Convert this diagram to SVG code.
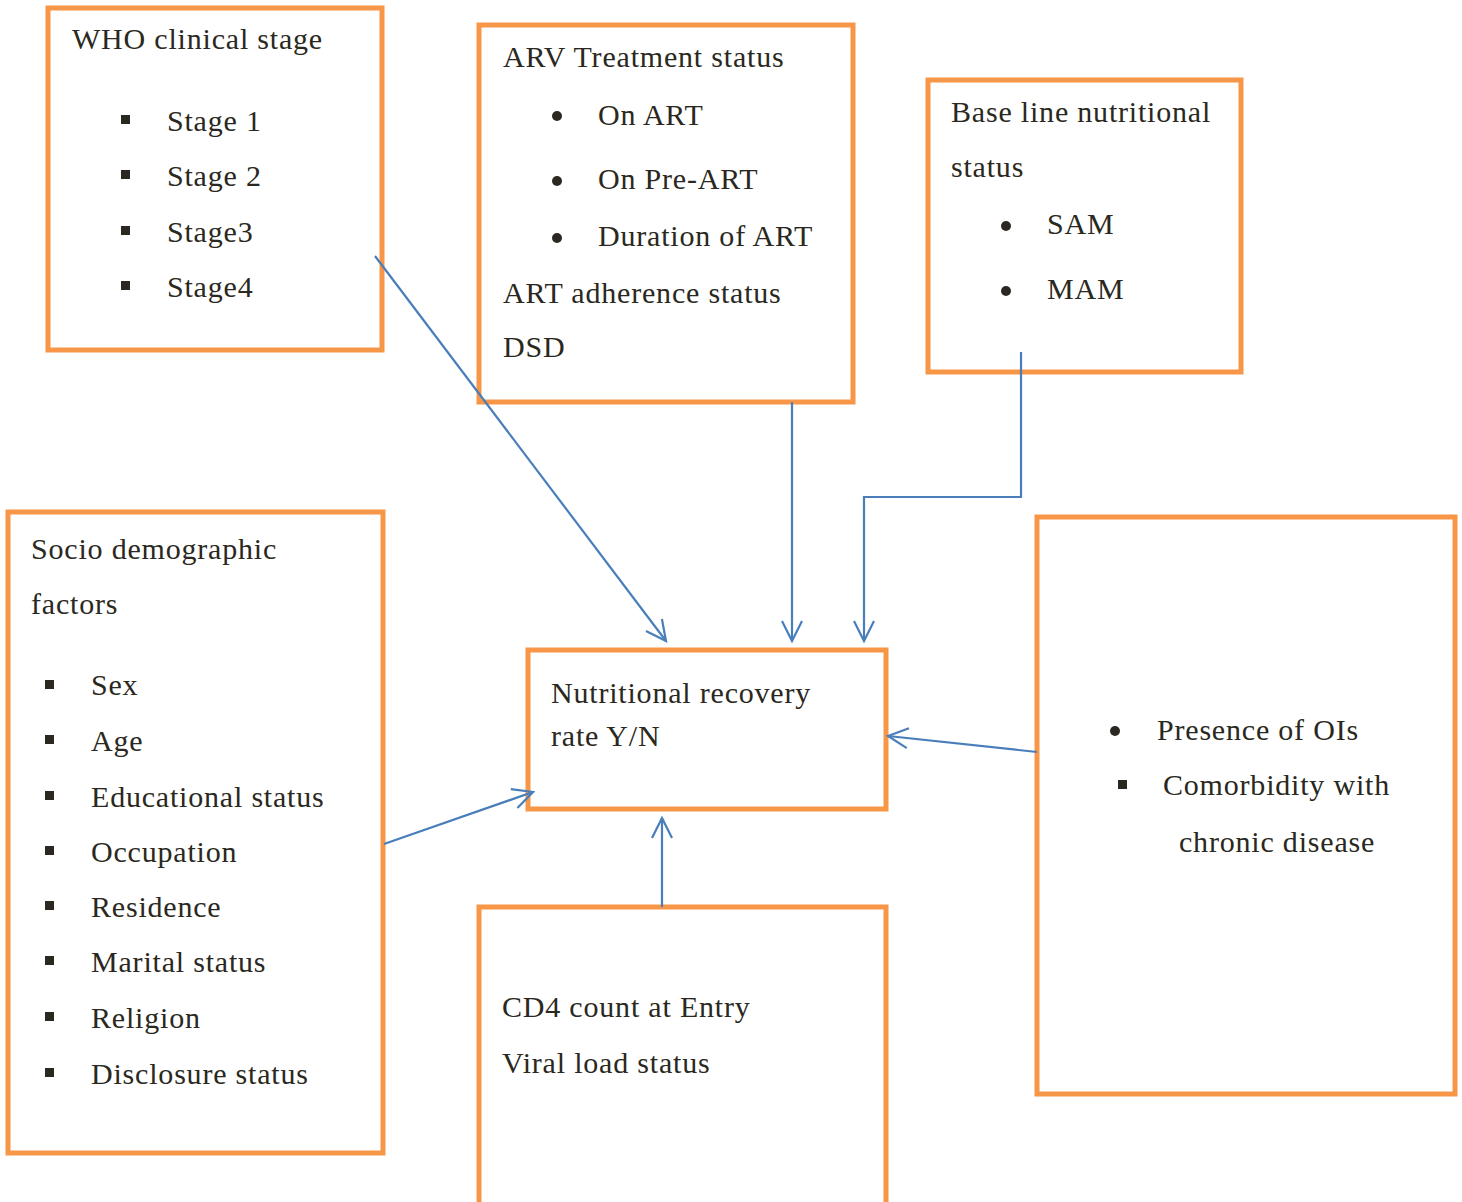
<svg xmlns="http://www.w3.org/2000/svg" width="1462" height="1202" viewBox="0 0 1462 1202">
<style>
.box{fill:#fff;stroke:#F79646;stroke-width:5}
.t text{font-size:30px;letter-spacing:0.8px;fill:#2a2820}
.con{fill:none;stroke:#4A7EBB;stroke-width:2.2}
.sq{fill:#2a2820}
</style>
<defs>
<marker id="arr" markerUnits="userSpaceOnUse" markerWidth="26" markerHeight="26" viewBox="0 0 26 26" refX="23" refY="13" orient="auto">
<path d="M3,3 L23,13 L3,23" fill="none" stroke="#4A7EBB" stroke-width="2.2"/>
</marker>
</defs>
<rect width="1462" height="1202" fill="#fff"/>
<g class="t" font-family="Liberation Serif, Tinos, Times New Roman, DejaVu Serif, serif">
<g id="who">
<rect class="box" x="48" y="8" width="334" height="342"/>
<text x="72" y="49">WHO clinical stage</text>
<rect class="sq" x="121" y="115" width="9" height="9"/><text x="167" y="131">Stage 1</text>
<rect class="sq" x="121" y="170" width="9" height="9"/><text x="167" y="186">Stage 2</text>
<rect class="sq" x="121" y="226" width="9" height="9"/><text x="167" y="242">Stage3</text>
<rect class="sq" x="121" y="281" width="9" height="9"/><text x="167" y="297">Stage4</text>
</g>
<g id="arv">
<rect class="box" x="479" y="25" width="374" height="377"/>
<text x="503" y="67">ARV Treatment status</text>
<circle class="sq" cx="557" cy="116" r="5"/><text x="598" y="125">On ART</text>
<circle class="sq" cx="557" cy="181" r="5"/><text x="598" y="189">On Pre-ART</text>
<circle class="sq" cx="557" cy="238" r="5"/><text x="598" y="246">Duration of ART</text>
<text x="503" y="303">ART adherence status</text>
<text x="503" y="357">DSD</text>
</g>
<g id="baseline">
<rect class="box" x="928" y="80" width="313" height="292"/>
<text x="951" y="122">Base line nutritional</text>
<text x="951" y="177">status</text>
<circle class="sq" cx="1006" cy="226" r="5"/><text x="1047" y="234">SAM</text>
<circle class="sq" cx="1006" cy="291" r="5"/><text x="1047" y="299">MAM</text>
</g>
<g id="socio">
<rect class="box" x="8" y="512" width="375" height="641"/>
<text x="31" y="559">Socio demographic</text>
<text x="31" y="614">factors</text>
<rect class="sq" x="45" y="680" width="9" height="9"/><text x="91" y="695">Sex</text>
<rect class="sq" x="45" y="735" width="9" height="9"/><text x="91" y="751">Age</text>
<rect class="sq" x="45" y="791" width="9" height="9"/><text x="91" y="807">Educational status</text>
<rect class="sq" x="45" y="846" width="9" height="9"/><text x="91" y="862">Occupation</text>
<rect class="sq" x="45" y="901" width="9" height="9"/><text x="91" y="917">Residence</text>
<rect class="sq" x="45" y="956" width="9" height="9"/><text x="91" y="972">Marital status</text>
<rect class="sq" x="45" y="1012" width="9" height="9"/><text x="91" y="1028">Religion</text>
<rect class="sq" x="45" y="1068" width="9" height="9"/><text x="91" y="1084">Disclosure status</text>
</g>
<g id="outcome">
<rect class="box" x="528" y="650" width="358" height="159"/>
<text x="551" y="703">Nutritional recovery</text>
<text x="551" y="746">rate Y/N</text>
</g>
<g id="ois">
<rect class="box" x="1037" y="517" width="418" height="577"/>
<circle class="sq" cx="1115" cy="731" r="5"/><text x="1157" y="740">Presence of OIs</text>
<rect class="sq" x="1118" y="780" width="9" height="9"/><text x="1163" y="795">Comorbidity with</text>
<text x="1179" y="852">chronic disease</text>
</g>
<g id="cd4">
<rect class="box" x="479" y="907" width="407" height="310"/>
<text x="502" y="1017">CD4 count at Entry</text>
<text x="502" y="1073">Viral load status</text>
</g>
</g>
<g id="connectors">
<path class="con" d="M375,256 L666,641" marker-end="url(#arr)"/>
<path class="con" d="M792,402 L792,641" marker-end="url(#arr)"/>
<path class="con" d="M1021,352 L1021,497 L864,497 L864,641" marker-end="url(#arr)"/>
<path class="con" d="M1037,752 L888,736" marker-end="url(#arr)"/>
<path class="con" d="M384,844 L533,792" marker-end="url(#arr)"/>
<path class="con" d="M662,907 L662,818" marker-end="url(#arr)"/>
</g>
</svg>
